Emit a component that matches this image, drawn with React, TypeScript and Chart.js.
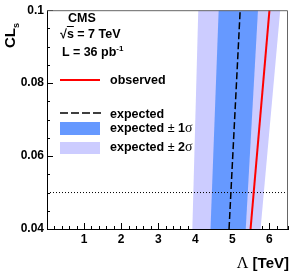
import React, { useEffect, useRef } from "react";
import { Chart, registerables } from "chart.js";

Chart.register(...registerables);

// ---- data ----
const clsValues = [0.04, 0.1]; // CLs at bottom / top of plot
const observedLimit = [5.49, 6.0];
const expectedLimit = [4.91, 5.21];
const expected1SigmaLow = [4.41, 4.63];
const expected1SigmaHigh = [5.36, 5.69];
const expected2SigmaLow = [3.92, 4.08];
const expected2SigmaHigh = [5.76, 6.29];
const clsThreshold = 0.05;
const xLimits = [0, 6.5];
const yLimits = [0.04, 0.1];
const xTickLabels = ["1", "2", "3", "4", "5", "6"];
const yTickLabels = ["0.04", "0.06", "0.08", "0.1"];

const FONT = "'Liberation Sans', Arial, Helvetica, sans-serif";

const toPts = (xs: number[], ys: number[]) => xs.map((x, i) => ({ x, y: ys[i] }));

const innerTicks = {
  id: "innerTicks",
  beforeDatasetsDraw(chart: any) {
    const { ctx, chartArea } = chart;
    const xs = chart.scales.x;
    const ys = chart.scales.y;
    ctx.save();
    ctx.strokeStyle = "#000";
    ctx.lineWidth = 1;
    ctx.beginPath();
    xs.ticks.forEach((t: any) => {
      const p = Math.round(xs.getPixelForValue(t.value)) + 0.5;
      const major = Math.abs(t.value - Math.round(t.value)) < 1e-6;
      const len = major ? 6 : 3;
      ctx.moveTo(p, chartArea.bottom);
      ctx.lineTo(p, chartArea.bottom - len);
    });
    ys.ticks.forEach((t: any) => {
      const p = Math.round(ys.getPixelForValue(t.value)) + 0.5;
      const major = Math.round(t.value * 1000) % 20 === 0;
      const len = major ? 6 : 3;
      ctx.moveTo(chartArea.left, p);
      ctx.lineTo(chartArea.left + len, p);
    });
    ctx.stroke();
    ctx.restore();
  },
  afterDraw(chart: any) {
    const { ctx, chartArea } = chart;
    ctx.save();
    ctx.strokeStyle = "#666";
    ctx.lineWidth = 1;
    ctx.beginPath();
    ctx.moveTo(chartArea.left, chartArea.top + 0.5);
    ctx.lineTo(chartArea.right - 0.5, chartArea.top + 0.5);
    ctx.lineTo(chartArea.right - 0.5, chartArea.bottom);
    ctx.stroke();
    ctx.restore();
  },
};

export default function App() {
  const ref = useRef<HTMLCanvasElement | null>(null);

  useEffect(() => {
    if (!ref.current) return;
    const chart = new Chart(ref.current, {
      type: "line",
      data: {
        datasets: [
          {
            label: "observed",
            data: toPts(observedLimit, clsValues),
            borderColor: "#ff0000",
            borderWidth: 2,
            pointRadius: 0,
            fill: false,
            order: 0,
          },
          {
            label: "expected",
            data: toPts(expectedLimit, clsValues),
            borderColor: "#000000",
            borderWidth: 1.5,
            borderDash: [7, 3],
            pointRadius: 0,
            fill: false,
            order: 1,
          },
          {
            label: "CLs = 0.05",
            data: toPts(xLimits, [clsThreshold, clsThreshold]),
            borderColor: "#000000",
            borderWidth: 1,
            borderDash: [1, 2],
            pointRadius: 0,
            fill: false,
            order: 2,
          },
          {
            label: "1 sigma low",
            data: toPts(expected1SigmaLow, clsValues),
            borderWidth: 0,
            borderColor: "rgba(0,0,0,0)",
            backgroundColor: "#6699ff",
            pointRadius: 0,
            fill: "+1",
            order: 3,
          },
          {
            label: "1 sigma high",
            data: toPts(expected1SigmaHigh, clsValues),
            borderWidth: 0,
            borderColor: "rgba(0,0,0,0)",
            pointRadius: 0,
            fill: false,
            order: 3,
          },
          {
            label: "2 sigma low",
            data: toPts(expected2SigmaLow, clsValues),
            borderWidth: 0,
            borderColor: "rgba(0,0,0,0)",
            backgroundColor: "#ccccff",
            pointRadius: 0,
            fill: "+1",
            order: 4,
          },
          {
            label: "2 sigma high",
            data: toPts(expected2SigmaHigh, clsValues),
            borderWidth: 0,
            borderColor: "rgba(0,0,0,0)",
            pointRadius: 0,
            fill: false,
            order: 4,
          },
        ],
      },
      options: {
        indexAxis: "y",
        animation: false,
        responsive: false,
        maintainAspectRatio: false,
        layout: { padding: { top: 4, right: 2, left: 0, bottom: 0 } },
        plugins: { legend: { display: false }, tooltip: { enabled: false } },
        scales: {
          x: {
            type: "linear",
            min: xLimits[0],
            max: xLimits[1],
            grid: { display: false, drawTicks: false },
            border: { display: true, color: "#000", width: 1 },
            ticks: {
              stepSize: 0.2,
              autoSkip: false,
              maxRotation: 0,
              padding: 3,
              color: "#000",
              font: { family: FONT, size: 12, weight: "bold" },
              callback: (v: any) => {
                const n = Math.round(Number(v) * 1000) / 1000;
                const s = String(n);
                return xTickLabels.includes(s) ? s : "";
              },
            },
            afterFit: (s: any) => {
              s.height = 42;
            },
          },
          y: {
            type: "linear",
            min: yLimits[0],
            max: yLimits[1],
            grid: { display: false, drawTicks: false },
            border: { display: true, color: "#000", width: 1 },
            ticks: {
              stepSize: 0.005,
              autoSkip: false,
              padding: 3,
              color: "#000",
              font: { family: FONT, size: 12, weight: "bold" },
              callback: (v: any) => {
                const s = String(Math.round(Number(v) * 1000) / 1000);
                return yTickLabels.includes(s) ? s : "";
              },
            },
            afterFit: (s: any) => {
              s.width = 47;
            },
          },
        },
      },
      plugins: [innerTicks],
    } as any);
    return () => chart.destroy();
  }, []);

  const txt: React.CSSProperties = {
    position: "absolute",
    fontFamily: FONT,
    fontWeight: "bold",
    fontSize: 12.5,
    lineHeight: "14px",
    color: "#000",
    whiteSpace: "nowrap",
  };

  return (
    <div style={{ position: "absolute", left: 0, top: 0, width: 291, height: 271 }}>
      <canvas ref={ref} width={291} height={271} style={{ display: "block", width: 291, height: 271 }} />
      {/* y title */}
      <div
        style={{
          position: "absolute",
          left: 2,
          top: 48,
          transformOrigin: "0 0",
          transform: "rotate(-90deg)",
          fontFamily: FONT,
          fontWeight: "bold",
          fontSize: 15,
          lineHeight: "15px",
          whiteSpace: "nowrap",
        }}
      >
        CL<span style={{ fontSize: 9, position: "relative", top: 4 }}>s</span>
      </div>
      {/* x title */}
      <div
        style={{
          position: "absolute",
          right: 2,
          top: 255,
          fontFamily: FONT,
          fontWeight: "bold",
          fontSize: 15,
          lineHeight: "16px",
          whiteSpace: "nowrap",
        }}
      >
        <span style={{ fontFamily: "'Liberation Serif', serif", fontWeight: "normal", fontSize: 16 }}>Λ</span> [TeV]
      </div>
      {/* CMS label */}
      <div style={{ ...txt, left: 68, top: 11 }}>CMS</div>
      <div style={{ ...txt, left: 60, top: 27 }}>
        √<span style={{ textDecoration: "overline" }}>s</span> = 7 TeV
      </div>
      <div style={{ ...txt, left: 62, top: 45 }}>
        L = 36 pb<sup style={{ fontSize: 8, lineHeight: 0 }}>-1</sup>
      </div>
      {/* legend */}
      <div style={{ position: "absolute", left: 60, top: 79, width: 40, height: 2, background: "#ff0000" }} />
      <div style={{ ...txt, left: 110, top: 73 }}>observed</div>
      <svg style={{ position: "absolute", left: 60, top: 110 }} width={41} height={6}>
        <line x1={0} y1={3} x2={41} y2={3} stroke="#000" strokeWidth={1.5} strokeDasharray="8 3" />
      </svg>
      <div style={{ ...txt, left: 110, top: 107 }}>expected</div>
      <div style={{ position: "absolute", left: 60, top: 122, width: 40, height: 13, background: "#6699ff" }} />
      <div style={{ ...txt, left: 110, top: 121 }}>
        expected <span style={{ fontWeight: "normal" }}>±</span> 1<span style={{ fontFamily: "'Liberation Serif', serif", fontWeight: "normal", fontSize: 14 }}>σ</span>
      </div>
      <div style={{ position: "absolute", left: 60, top: 142, width: 40, height: 12, background: "#ccccff" }} />
      <div style={{ ...txt, left: 110, top: 140 }}>
        expected <span style={{ fontWeight: "normal" }}>±</span> 2<span style={{ fontFamily: "'Liberation Serif', serif", fontWeight: "normal", fontSize: 14 }}>σ</span>
      </div>
    </div>
  );
}
